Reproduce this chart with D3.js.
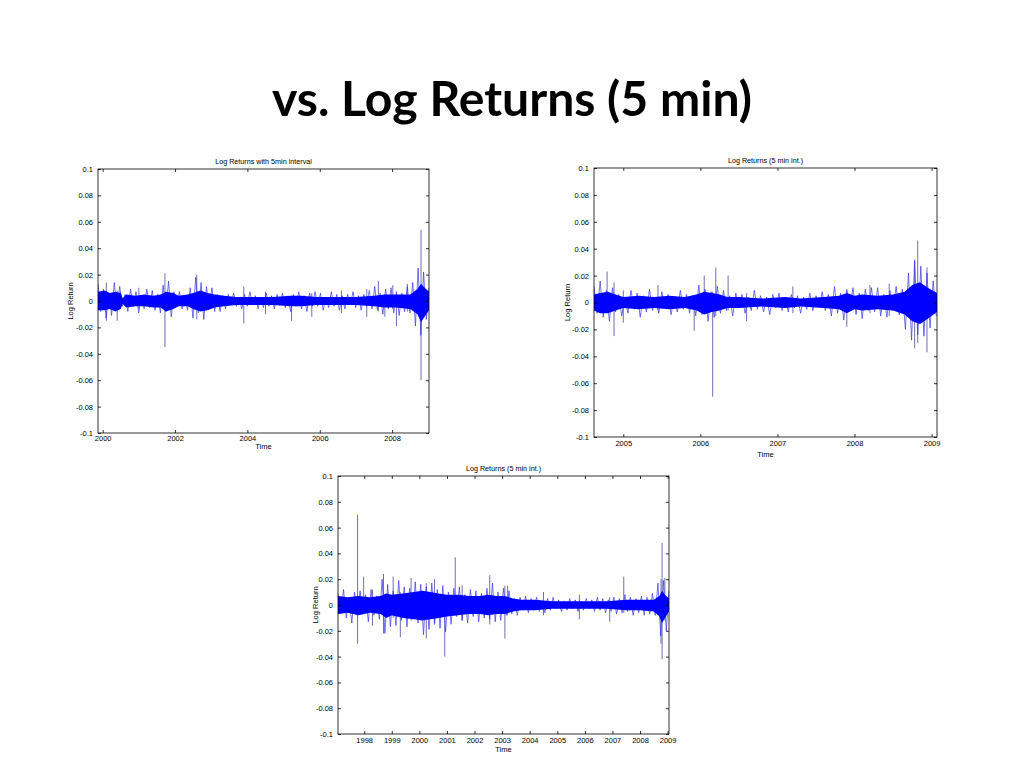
<!DOCTYPE html>
<html><head><meta charset="utf-8">
<script src="https://cdn.jsdelivr.net/npm/d3@7"></script>
<style>body{margin:0;background:#fff}</style>
</head><body>
<svg id="c" width="1024" height="768"></svg>
<script>
// ---------- text ----------
const mainTitle = "vs. Log Returns (5 min)";
const panelTitles = ["Log Returns with 5min interval", "Log Returns (5 min int.)", "Log Returns (5 min int.)"];
const yAxisLabel = "Log Return";
const xAxisLabel = "Time";

// ---------- shared y ticks ----------
const yTickValues = [0.1, 0.08, 0.06, 0.04, 0.02, 0, -0.02, -0.04, -0.06, -0.08, -0.1];
const yTickLabels = ["0.1", "0.08", "0.06", "0.04", "0.02", "0", "-0.02", "-0.04", "-0.06", "-0.08", "-0.1"];

// ---------- panel 1 (2000-2008) ----------
const p1Domain = [1999.87, 2009.02];
const p1XTicks = [2000, 2002, 2004, 2006, 2008];
const p1XTickLabels = ["2000", "2002", "2004", "2006", "2008"];
const p1Start = 1999.87, p1Step = 0.075;
const p1Values = [
  0.013,-0.008,0.009,-0.013,0.006,-0.011,0.014,-0.007,0.011,
  -0.004,
  0.005,-0.008,0.009,-0.004,0.007,-0.009,0.004,-0.006,0.009,-0.005,0.008,-0.007,0.005,-0.009,
  0.012,-0.008,0.015,-0.012,0.007,
  -0.004,0.007,-0.006,0.004,-0.007,
  0.010,-0.013,0.018,-0.009,0.014,-0.014,0.011,
  -0.006,0.010,-0.008,0.005,-0.008,
  0.004,-0.006,0.005,-0.003,0.006,-0.004,0.003,-0.006,0.005,-0.004,0.007,-0.003,0.004,-0.006,0.003,-0.005,0.006,-0.004,0.004,-0.006,0.005,-0.003,0.006,-0.005,0.004,
  -0.008,0.005,-0.004,0.007,-0.006,0.004,-0.008,0.006,-0.004,0.007,
  -0.004,0.006,-0.007,0.003,-0.005,0.007,-0.004,0.005,-0.007,0.004,-0.006,0.005,-0.003,0.007,-0.005,0.004,-0.007,0.005,-0.004,0.008,
  -0.006,0.011,-0.007,0.006,-0.010,0.009,-0.006,0.010,-0.009,0.007,-0.011,0.006,-0.008,0.011,
  -0.009,0.014,-0.019,0.025,-0.026,0.022,-0.014,0.010
];
const p1BandT  = [1999.87,2000.05,2000.2,2000.35,2000.5,2000.55,2000.65,2000.9,2001.15,2001.4,2001.6,2001.75,2001.95,2002.1,2002.35,2002.5,2002.7,2002.9,2003.1,2003.35,2003.7,2004.2,2004.7,2005.2,2005.5,2005.9,2006.4,2007.0,2007.5,2007.8,2008.1,2008.5,2008.7,2008.8,2008.9,2009.02];
const p1BandHi = [0.007,0.008,0.006,0.007,0.006,0.002,0.005,0.004,0.005,0.004,0.005,0.007,0.006,0.004,0.005,0.006,0.008,0.006,0.005,0.004,0.003,0.003,0.003,0.004,0.004,0.003,0.003,0.003,0.004,0.005,0.005,0.005,0.009,0.013,0.010,0.007];
const p1BandLo = [-0.007,-0.007,-0.006,-0.008,-0.006,-0.002,-0.005,-0.004,-0.004,-0.005,-0.005,-0.008,-0.006,-0.004,-0.004,-0.006,-0.008,-0.007,-0.005,-0.004,-0.003,-0.003,-0.003,-0.004,-0.004,-0.003,-0.003,-0.003,-0.004,-0.005,-0.005,-0.006,-0.010,-0.016,-0.012,-0.007];
const p1SpikeT  = [2000.1, 2000.4, 2001.0, 2001.72, 2002.6, 2003.9, 2004.5, 2005.22, 2005.78, 2006.6, 2007.3, 2007.62, 2007.8, 2008.02, 2008.12, 2008.42, 2008.8];
const p1SpikeHi = [0.014, 0.008, 0.010, 0.021, 0.020, 0.011, 0.007, 0.004, 0.006, 0.008, 0.009, 0.015, 0.005, 0.012, 0.005, 0.013, 0.054];
const p1SpikeLo = [-0.015, -0.015, -0.006, -0.035, -0.014, -0.017, -0.010, -0.015, -0.012, -0.009, -0.012, -0.008, -0.012, -0.006, -0.019, -0.008, -0.060];

// ---------- panel 2 (2005-2009) ----------
const p2Domain = [2004.62, 2009.07];
const p2XTicks = [2005, 2006, 2007, 2008, 2009];
const p2XTickLabels = ["2005", "2006", "2007", "2008", "2009"];
const p2Start = 2004.62, p2Step = 0.04;
const p2Values = [
  0.012,-0.008,0.016,-0.011,0.009,-0.014,0.011,-0.007,
  0.006,-0.010,0.004,-0.008,0.009,-0.005,0.007,-0.011,0.005,-0.007,0.010,-0.006,0.004,-0.008,
  0.008,-0.004,0.006,-0.009,0.004,-0.007,0.009,-0.005,0.006,-0.008,0.005,-0.010,
  0.013,-0.009,0.010,-0.014,0.008,-0.011,0.012,-0.008,
  0.009,-0.006,0.005,-0.010,0.007,-0.004,0.006,-0.008,0.004,-0.006,0.009,-0.005,0.005,-0.007,0.004,-0.009,0.006,-0.004,0.007,-0.006,0.004,-0.007,0.006,-0.004,0.005,-0.008,0.004,-0.005,0.007,-0.006,0.005,-0.004,0.008,-0.006,
  0.006,-0.010,0.012,-0.008,0.007,-0.013,0.009,-0.006,0.011,-0.009,0.007,-0.012,0.010,-0.006,0.011,
  -0.007,0.011,-0.010,0.006,-0.011,0.009,-0.006,0.012,-0.009,0.010,
  -0.020,0.022,-0.028,0.031,-0.024,0.027,-0.025,0.022,-0.019,0.016,-0.010
];
const p2BandT  = [2004.62,2004.7,2004.8,2004.9,2005.0,2005.2,2005.4,2005.6,2005.8,2005.95,2006.05,2006.15,2006.25,2006.35,2006.5,2006.8,2007.1,2007.3,2007.6,2007.8,2007.9,2008.0,2008.1,2008.3,2008.5,2008.65,2008.75,2008.85,2008.95,2009.07];
const p2BandHi = [0.006,0.007,0.008,0.006,0.004,0.005,0.004,0.005,0.004,0.006,0.008,0.007,0.006,0.004,0.004,0.003,0.004,0.003,0.004,0.005,0.007,0.005,0.006,0.005,0.006,0.008,0.013,0.015,0.011,0.007];
const p2BandLo = [-0.006,-0.008,-0.008,-0.006,-0.004,-0.005,-0.004,-0.005,-0.004,-0.006,-0.009,-0.007,-0.006,-0.004,-0.004,-0.003,-0.004,-0.003,-0.004,-0.005,-0.008,-0.005,-0.006,-0.005,-0.006,-0.009,-0.014,-0.016,-0.012,-0.007];
const p2SpikeT  = [2004.79, 2004.88, 2005.0, 2005.45, 2005.92, 2006.05, 2006.16, 2006.20, 2006.36, 2006.6, 2007.2, 2007.9, 2008.2, 2008.45, 2008.78, 2008.82, 2008.94];
const p2SpikeHi = [0.023, 0.015, 0.009, 0.013, 0.005, 0.020, 0.008, 0.026, 0.020, 0.007, 0.012, 0.010, 0.013, 0.014, 0.032, 0.046, 0.026];
const p2SpikeLo = [-0.005, -0.025, -0.015, -0.006, -0.021, -0.008, -0.070, -0.010, -0.006, -0.014, -0.008, -0.018, -0.008, -0.010, -0.034, -0.030, -0.037];

// ---------- panel 3 (1997-2009) ----------
const p3Domain = [1997.05, 2009.05];
const p3XTicks = [1998, 1999, 2000, 2001, 2002, 2003, 2004, 2005, 2006, 2007, 2008, 2009];
const p3XTickLabels = ["1998", "1999", "2000", "2001", "2002", "2003", "2004", "2005", "2006", "2007", "2008", "2009"];
const p3Start = 1997.05, p3Step = 0.1;
const p3Values = [
  0.009,-0.007,0.012,-0.010,0.006,-0.014,0.010,-0.008,0.011,-0.006,0.008,-0.013,0.012,-0.008,0.007,-0.011,
  0.020,-0.022,0.016,-0.017,
  0.011,-0.016,0.019,-0.012,0.014,-0.017,0.013,-0.011,0.018,-0.014,
  0.016,-0.023,0.014,-0.019,0.017,-0.015,0.012,-0.018,0.015,-0.021,
  0.010,-0.015,0.013,-0.009,0.014,-0.012,0.008,-0.014,0.012,-0.009,0.011,-0.013,0.009,-0.010,0.013,
  -0.011,0.017,-0.013,0.010,-0.012,0.013,-0.008,0.011,
  -0.007,0.005,-0.008,0.006,-0.004,0.007,-0.006,
  0.005,-0.004,0.006,-0.005,0.003,-0.006,0.005,-0.004,0.006,-0.003,0.004,-0.005,0.003,-0.004,0.005,-0.003,0.004,-0.005,0.003,-0.004,0.005,-0.003,0.004,-0.005,0.006,-0.004,0.005,-0.006,0.004,-0.005,
  0.006,-0.007,0.005,-0.006,0.008,-0.005,0.006,-0.008,0.005,-0.006,0.007,-0.008,0.006,-0.007,0.009,-0.008,
  0.017,-0.024,0.019,-0.020,0.011
];
const p3BandT  = [1997.05,1997.4,1997.8,1998.2,1998.6,1998.8,1999.0,1999.4,1999.8,2000.1,2000.4,2000.7,2001.0,2001.4,2001.8,2002.2,2002.5,2002.8,2003.1,2003.4,2003.7,2004.2,2004.8,2005.3,2006.0,2006.8,2007.5,2008.0,2008.5,2008.7,2008.8,2008.9,2009.05];
const p3BandHi = [0.007,0.006,0.007,0.006,0.007,0.009,0.008,0.009,0.010,0.011,0.010,0.009,0.008,0.008,0.007,0.007,0.008,0.007,0.007,0.005,0.004,0.004,0.003,0.003,0.003,0.003,0.004,0.004,0.004,0.007,0.011,0.008,0.005];
const p3BandLo = [-0.007,-0.006,-0.008,-0.006,-0.007,-0.010,-0.008,-0.010,-0.011,-0.012,-0.011,-0.010,-0.009,-0.008,-0.007,-0.007,-0.008,-0.007,-0.007,-0.005,-0.004,-0.004,-0.003,-0.003,-0.003,-0.003,-0.004,-0.004,-0.005,-0.009,-0.014,-0.010,-0.005];
const p3SpikeT  = [1997.76, 1997.98, 1998.3, 1998.7, 1999.05, 1999.31, 1999.7, 2000.25, 2000.55, 2000.92, 2001.3, 2001.55, 2002.55, 2003.1, 2003.2, 2004.5, 2005.8, 2006.9, 2007.41, 2008.76, 2008.80, 2008.9];
const p3SpikeHi = [0.070, 0.022, 0.012, 0.024, 0.022, 0.010, 0.021, 0.017, 0.020, 0.008, 0.037, 0.015, 0.023, 0.015, 0.015, 0.010, 0.008, 0.006, 0.022, 0.020, 0.048, 0.021];
const p3SpikeLo = [-0.030, -0.005, -0.016, -0.022, -0.010, -0.025, -0.012, -0.026, -0.014, -0.040, -0.008, -0.012, -0.015, -0.026, -0.008, -0.008, -0.011, -0.013, -0.006, -0.030, -0.042, -0.012];

// ---------- drawing ----------
const svg = d3.select("#c");
const FONT = "'Liberation Sans', Arial, sans-serif";

const mt = svg.append("text")
  .attr("x", 512).attr("y", 116)
  .attr("text-anchor", "middle")
  .style("font-family", "Lato, 'Open Sans', sans-serif")
  .style("font-weight", "700")
  .style("font-size", "46px")
  .attr("fill", "#000")
  .text(mainTitle);
const w0 = mt.node().getComputedTextLength();
mt.style("font-size", (46 * 480 / w0).toFixed(2) + "px");

const panels = [
  {box: {l: 98, r: 429, t: 169, b: 433}, title: panelTitles[0], domain: p1Domain, xt: p1XTicks, xl: p1XTickLabels,
   start: p1Start, step: p1Step, vals: p1Values, bt: p1BandT, bh: p1BandHi, bl: p1BandLo,
   st: p1SpikeT, sh: p1SpikeHi, sl: p1SpikeLo, xlabOff: 10, timeOff: 16, ylabOff: 28},
  {box: {l: 594, r: 937, t: 168, b: 437}, title: panelTitles[1], domain: p2Domain, xt: p2XTicks, xl: p2XTickLabels,
   start: p2Start, step: p2Step, vals: p2Values, bt: p2BandT, bh: p2BandHi, bl: p2BandLo,
   st: p2SpikeT, sh: p2SpikeHi, sl: p2SpikeLo, xlabOff: 11, timeOff: 20, ylabOff: 27},
  {box: {l: 338, r: 669, t: 476, b: 734}, title: panelTitles[2], domain: p3Domain, xt: p3XTicks, xl: p3XTickLabels,
   start: p3Start, step: p3Step, vals: p3Values, bt: p3BandT, bh: p3BandHi, bl: p3BandLo,
   st: p3SpikeT, sh: p3SpikeHi, sl: p3SpikeLo, xlabOff: 11, timeOff: 18, ylabOff: 23}
];

panels.forEach((p, pi) => {
  const {l, r, t, b} = p.box;
  const x = d3.scaleLinear().domain(p.domain).range([l, r]);
  const y = d3.scaleLinear().domain([-0.1, 0.1]).range([b, t]);
  const g = svg.append("g");

  const clipId = "clip" + pi;
  svg.append("clipPath").attr("id", clipId)
    .append("rect").attr("x", l).attr("y", t).attr("width", r - l).attr("height", b - t);
  const plot = g.append("g").attr("clip-path", `url(#${clipId})`);

  // spikes (isolated large returns)
  plot.selectAll("line.spike").data(p.st).join("line")
    .attr("class", "spike")
    .attr("x1", d => x(d)).attr("x2", d => x(d))
    .attr("y1", (d, i) => y(p.sh[i])).attr("y2", (d, i) => y(p.sl[i]))
    .attr("stroke", "#5d5dab").attr("stroke-width", 0.9);

  // return series (zig-zag)
  const series = p.vals.map((v, i) => [p.start + i * p.step, v]);
  plot.append("path").datum(series)
    .attr("d", d3.line().x(d => x(d[0])).y(d => y(d[1])))
    .attr("fill", "none").attr("stroke", "#3535e6").attr("stroke-width", 0.7);

  // dense core band
  const band = p.bt.map((tt, i) => [tt, p.bh[i], p.bl[i]]);
  plot.append("path").datum(band)
    .attr("d", d3.area().x(d => x(d[0])).y0(d => y(d[2])).y1(d => y(d[1])))
    .attr("fill", "#0000ff");

  // axes: inward ticks on all four sides
  const tk = 3;
  const left = g.append("g").attr("transform", `translate(${l},0)`)
    .call(d3.axisLeft(y).tickValues(yTickValues).tickFormat((d, i) => yTickLabels[i]).tickSizeInner(-tk).tickSizeOuter(0).tickPadding(5));
  const right = g.append("g").attr("transform", `translate(${r},0)`)
    .call(d3.axisRight(y).tickValues(yTickValues).tickFormat("").tickSizeInner(-tk).tickSizeOuter(0));
  const bottom = g.append("g").attr("transform", `translate(0,${b})`)
    .call(d3.axisBottom(x).tickValues(p.xt).tickFormat((d, i) => p.xl[i]).tickSizeInner(-tk).tickSizeOuter(0).tickPadding(p.xlabOff - 7));
  const top = g.append("g").attr("transform", `translate(0,${t})`)
    .call(d3.axisTop(x).tickValues(p.xt).tickFormat("").tickSizeInner(-tk).tickSizeOuter(0));
  [left, right, bottom, top].forEach(ax => {
    ax.select(".domain").remove();
    ax.selectAll("line").attr("stroke", "#000").attr("stroke-width", 0.8);
    ax.selectAll("text").style("font-family", FONT).style("font-size", "7.5px").attr("fill", "#000");
  });

  g.append("rect").attr("x", l).attr("y", t).attr("width", r - l).attr("height", b - t)
    .attr("fill", "none").attr("stroke", "#000").attr("stroke-width", 0.8);

  g.append("text").attr("x", (l + r) / 2).attr("y", t - 5.5).attr("text-anchor", "middle")
    .style("font-family", FONT).style("font-size", "7.2px").text(p.title);
  g.append("text").attr("x", (l + r) / 2).attr("y", b + p.timeOff).attr("text-anchor", "middle")
    .style("font-family", FONT).style("font-size", "7.5px").text(xAxisLabel);
  g.append("text").attr("transform", `translate(${l - p.ylabOff + 2.5},${(t + b) / 2}) rotate(-90)`)
    .attr("text-anchor", "middle")
    .style("font-family", FONT).style("font-size", "7.5px").text(yAxisLabel);
});
</script>
</body></html>
